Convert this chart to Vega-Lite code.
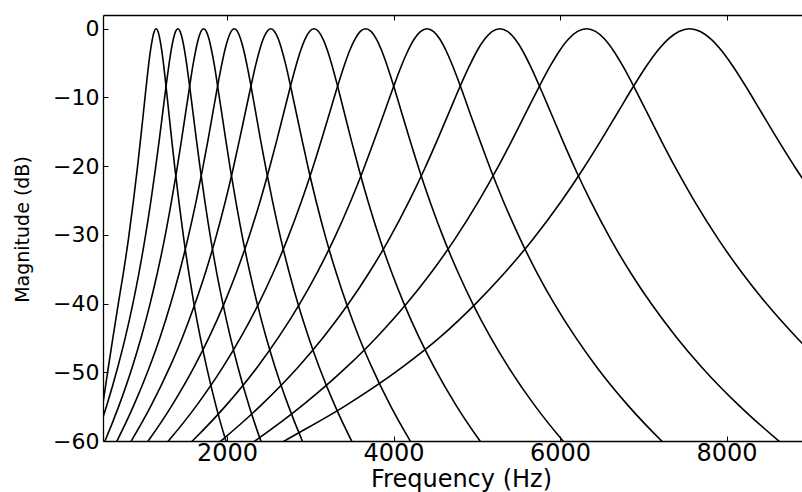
{
  "$schema": "https://vega.github.io/schema/vega-lite/v6.json",
  "width": 699,
  "height": 426,
  "autosize": "none",
  "padding": {"left": 103, "top": 15, "right": 0, "bottom": 51},
  "background": "white",
  "config": {"view": {"stroke": null}},
  "data": {"values": [
    {"c":1,"f":420,"d":-62.73},{"c":1,"f":445,"d":-59.79},{"c":1,"f":505,"d":-54.89},{"c":1,"f":575,"d":-49.22},{"c":1,"f":630,"d":-44.89},{"c":1,"f":694,"d":-40},{"c":1,"f":754,"d":-35.59},{"c":1,"f":815,"d":-30.66},{"c":1,"f":875,"d":-25.1},{"c":1,"f":921,"d":-20.48},{"c":1,"f":959,"d":-16.35},{"c":1,"f":997,"d":-12.04},{"c":1,"f":1027,"d":-8.59},{"c":1,"f":1057,"d":-5.34},{"c":1,"f":1080,"d":-3.2},{"c":1,"f":1103,"d":-1.5},{"c":1,"f":1125,"d":-0.39},{"c":1,"f":1148,"d":0},{"c":1,"f":1171,"d":-0.39},{"c":1,"f":1193,"d":-1.5},{"c":1,"f":1216,"d":-3.2},{"c":1,"f":1239,"d":-5.34},{"c":1,"f":1269,"d":-8.59},{"c":1,"f":1299,"d":-12.04},{"c":1,"f":1337,"d":-16.35},{"c":1,"f":1375,"d":-20.48},{"c":1,"f":1421,"d":-25.1},{"c":1,"f":1481,"d":-30.66},{"c":1,"f":1542,"d":-35.59},{"c":1,"f":1602,"d":-40},{"c":1,"f":1678,"d":-44.89},{"c":1,"f":1754,"d":-49.22},{"c":1,"f":1867,"d":-54.89},{"c":1,"f":1981,"d":-59.79},{"c":1,"f":2057,"d":-62.73},
    {"c":2,"f":328,"d":-62.73},{"c":2,"f":418,"d":-59.79},{"c":2,"f":553,"d":-54.89},{"c":2,"f":688,"d":-49.22},{"c":2,"f":779,"d":-44.89},{"c":2,"f":869,"d":-40},{"c":2,"f":941,"d":-35.59},{"c":2,"f":1013,"d":-30.66},{"c":2,"f":1085,"d":-25.1},{"c":2,"f":1139,"d":-20.48},{"c":2,"f":1184,"d":-16.35},{"c":2,"f":1229,"d":-12.04},{"c":2,"f":1265,"d":-8.59},{"c":2,"f":1301,"d":-5.34},{"c":2,"f":1328,"d":-3.2},{"c":2,"f":1355,"d":-1.5},{"c":2,"f":1382,"d":-0.39},{"c":2,"f":1409,"d":0},{"c":2,"f":1436,"d":-0.39},{"c":2,"f":1463,"d":-1.5},{"c":2,"f":1490,"d":-3.2},{"c":2,"f":1517,"d":-5.34},{"c":2,"f":1553,"d":-8.59},{"c":2,"f":1589,"d":-12.04},{"c":2,"f":1634,"d":-16.35},{"c":2,"f":1679,"d":-20.48},{"c":2,"f":1733,"d":-25.1},{"c":2,"f":1805,"d":-30.66},{"c":2,"f":1877,"d":-35.59},{"c":2,"f":1950,"d":-40},{"c":2,"f":2040,"d":-44.89},{"c":2,"f":2130,"d":-49.22},{"c":2,"f":2265,"d":-54.89},{"c":2,"f":2400,"d":-59.79},{"c":2,"f":2490,"d":-62.73},
    {"c":3,"f":434,"d":-62.73},{"c":3,"f":541,"d":-59.79},{"c":3,"f":701,"d":-54.89},{"c":3,"f":862,"d":-49.22},{"c":3,"f":969,"d":-44.89},{"c":3,"f":1076,"d":-40},{"c":3,"f":1162,"d":-35.59},{"c":3,"f":1248,"d":-30.66},{"c":3,"f":1333,"d":-25.1},{"c":3,"f":1398,"d":-20.48},{"c":3,"f":1451,"d":-16.35},{"c":3,"f":1505,"d":-12.04},{"c":3,"f":1548,"d":-8.59},{"c":3,"f":1590,"d":-5.34},{"c":3,"f":1623,"d":-3.2},{"c":3,"f":1655,"d":-1.5},{"c":3,"f":1687,"d":-0.39},{"c":3,"f":1719,"d":0},{"c":3,"f":1751,"d":-0.39},{"c":3,"f":1783,"d":-1.5},{"c":3,"f":1815,"d":-3.2},{"c":3,"f":1848,"d":-5.34},{"c":3,"f":1890,"d":-8.59},{"c":3,"f":1933,"d":-12.04},{"c":3,"f":1987,"d":-16.35},{"c":3,"f":2040,"d":-20.48},{"c":3,"f":2105,"d":-25.1},{"c":3,"f":2190,"d":-30.66},{"c":3,"f":2276,"d":-35.59},{"c":3,"f":2362,"d":-40},{"c":3,"f":2469,"d":-44.89},{"c":3,"f":2576,"d":-49.22},{"c":3,"f":2737,"d":-54.89},{"c":3,"f":2897,"d":-59.79},{"c":3,"f":3004,"d":-62.73},
    {"c":4,"f":559,"d":-62.73},{"c":4,"f":686,"d":-59.79},{"c":4,"f":877,"d":-54.89},{"c":4,"f":1068,"d":-49.22},{"c":4,"f":1196,"d":-44.89},{"c":4,"f":1323,"d":-40},{"c":4,"f":1425,"d":-35.59},{"c":4,"f":1527,"d":-30.66},{"c":4,"f":1629,"d":-25.1},{"c":4,"f":1705,"d":-20.48},{"c":4,"f":1769,"d":-16.35},{"c":4,"f":1832,"d":-12.04},{"c":4,"f":1883,"d":-8.59},{"c":4,"f":1934,"d":-5.34},{"c":4,"f":1972,"d":-3.2},{"c":4,"f":2011,"d":-1.5},{"c":4,"f":2049,"d":-0.39},{"c":4,"f":2087,"d":0},{"c":4,"f":2125,"d":-0.39},{"c":4,"f":2163,"d":-1.5},{"c":4,"f":2202,"d":-3.2},{"c":4,"f":2240,"d":-5.34},{"c":4,"f":2291,"d":-8.59},{"c":4,"f":2342,"d":-12.04},{"c":4,"f":2405,"d":-16.35},{"c":4,"f":2469,"d":-20.48},{"c":4,"f":2546,"d":-25.1},{"c":4,"f":2647,"d":-30.66},{"c":4,"f":2749,"d":-35.59},{"c":4,"f":2851,"d":-40},{"c":4,"f":2979,"d":-44.89},{"c":4,"f":3106,"d":-49.22},{"c":4,"f":3297,"d":-54.89},{"c":4,"f":3488,"d":-59.79},{"c":4,"f":3615,"d":-62.73},
    {"c":5,"f":708,"d":-62.73},{"c":5,"f":859,"d":-59.79},{"c":5,"f":1086,"d":-54.89},{"c":5,"f":1313,"d":-49.22},{"c":5,"f":1465,"d":-44.89},{"c":5,"f":1616,"d":-40},{"c":5,"f":1738,"d":-35.59},{"c":5,"f":1859,"d":-30.66},{"c":5,"f":1980,"d":-25.1},{"c":5,"f":2071,"d":-20.48},{"c":5,"f":2146,"d":-16.35},{"c":5,"f":2222,"d":-12.04},{"c":5,"f":2283,"d":-8.59},{"c":5,"f":2343,"d":-5.34},{"c":5,"f":2389,"d":-3.2},{"c":5,"f":2434,"d":-1.5},{"c":5,"f":2480,"d":-0.39},{"c":5,"f":2525,"d":0},{"c":5,"f":2570,"d":-0.39},{"c":5,"f":2616,"d":-1.5},{"c":5,"f":2661,"d":-3.2},{"c":5,"f":2707,"d":-5.34},{"c":5,"f":2767,"d":-8.59},{"c":5,"f":2828,"d":-12.04},{"c":5,"f":2904,"d":-16.35},{"c":5,"f":2979,"d":-20.48},{"c":5,"f":3070,"d":-25.1},{"c":5,"f":3191,"d":-30.66},{"c":5,"f":3313,"d":-35.59},{"c":5,"f":3434,"d":-40},{"c":5,"f":3585,"d":-44.89},{"c":5,"f":3737,"d":-49.22},{"c":5,"f":3964,"d":-54.89},{"c":5,"f":4191,"d":-59.79},{"c":5,"f":4342,"d":-62.73},
    {"c":6,"f":885,"d":-62.73},{"c":6,"f":1065,"d":-59.79},{"c":6,"f":1335,"d":-54.89},{"c":6,"f":1605,"d":-49.22},{"c":6,"f":1785,"d":-44.89},{"c":6,"f":1965,"d":-40},{"c":6,"f":2109,"d":-35.59},{"c":6,"f":2253,"d":-30.66},{"c":6,"f":2397,"d":-25.1},{"c":6,"f":2505,"d":-20.48},{"c":6,"f":2595,"d":-16.35},{"c":6,"f":2685,"d":-12.04},{"c":6,"f":2757,"d":-8.59},{"c":6,"f":2829,"d":-5.34},{"c":6,"f":2883,"d":-3.2},{"c":6,"f":2937,"d":-1.5},{"c":6,"f":2991,"d":-0.39},{"c":6,"f":3045,"d":0},{"c":6,"f":3099,"d":-0.39},{"c":6,"f":3153,"d":-1.5},{"c":6,"f":3207,"d":-3.2},{"c":6,"f":3261,"d":-5.34},{"c":6,"f":3333,"d":-8.59},{"c":6,"f":3405,"d":-12.04},{"c":6,"f":3495,"d":-16.35},{"c":6,"f":3585,"d":-20.48},{"c":6,"f":3693,"d":-25.1},{"c":6,"f":3837,"d":-30.66},{"c":6,"f":3981,"d":-35.59},{"c":6,"f":4125,"d":-40},{"c":6,"f":4305,"d":-44.89},{"c":6,"f":4485,"d":-49.22},{"c":6,"f":4755,"d":-54.89},{"c":6,"f":5026,"d":-59.79},{"c":6,"f":5206,"d":-62.73},
    {"c":7,"f":1095,"d":-62.73},{"c":7,"f":1310,"d":-59.79},{"c":7,"f":1631,"d":-54.89},{"c":7,"f":1952,"d":-49.22},{"c":7,"f":2166,"d":-44.89},{"c":7,"f":2380,"d":-40},{"c":7,"f":2552,"d":-35.59},{"c":7,"f":2723,"d":-30.66},{"c":7,"f":2894,"d":-25.1},{"c":7,"f":3023,"d":-20.48},{"c":7,"f":3130,"d":-16.35},{"c":7,"f":3237,"d":-12.04},{"c":7,"f":3322,"d":-8.59},{"c":7,"f":3408,"d":-5.34},{"c":7,"f":3472,"d":-3.2},{"c":7,"f":3537,"d":-1.5},{"c":7,"f":3601,"d":-0.39},{"c":7,"f":3665,"d":0},{"c":7,"f":3729,"d":-0.39},{"c":7,"f":3794,"d":-1.5},{"c":7,"f":3858,"d":-3.2},{"c":7,"f":3922,"d":-5.34},{"c":7,"f":4008,"d":-8.59},{"c":7,"f":4093,"d":-12.04},{"c":7,"f":4200,"d":-16.35},{"c":7,"f":4307,"d":-20.48},{"c":7,"f":4436,"d":-25.1},{"c":7,"f":4607,"d":-30.66},{"c":7,"f":4779,"d":-35.59},{"c":7,"f":4950,"d":-40},{"c":7,"f":5164,"d":-44.89},{"c":7,"f":5378,"d":-49.22},{"c":7,"f":5699,"d":-54.89},{"c":7,"f":6021,"d":-59.79},{"c":7,"f":6235,"d":-62.73},
    {"c":8,"f":1346,"d":-62.73},{"c":8,"f":1601,"d":-59.79},{"c":8,"f":1983,"d":-54.89},{"c":8,"f":2365,"d":-49.22},{"c":8,"f":2619,"d":-44.89},{"c":8,"f":2874,"d":-40},{"c":8,"f":3078,"d":-35.59},{"c":8,"f":3282,"d":-30.66},{"c":8,"f":3485,"d":-25.1},{"c":8,"f":3638,"d":-20.48},{"c":8,"f":3765,"d":-16.35},{"c":8,"f":3893,"d":-12.04},{"c":8,"f":3995,"d":-8.59},{"c":8,"f":4096,"d":-5.34},{"c":8,"f":4173,"d":-3.2},{"c":8,"f":4249,"d":-1.5},{"c":8,"f":4326,"d":-0.39},{"c":8,"f":4402,"d":0},{"c":8,"f":4478,"d":-0.39},{"c":8,"f":4555,"d":-1.5},{"c":8,"f":4631,"d":-3.2},{"c":8,"f":4708,"d":-5.34},{"c":8,"f":4810,"d":-8.59},{"c":8,"f":4911,"d":-12.04},{"c":8,"f":5039,"d":-16.35},{"c":8,"f":5166,"d":-20.48},{"c":8,"f":5319,"d":-25.1},{"c":8,"f":5523,"d":-30.66},{"c":8,"f":5726,"d":-35.59},{"c":8,"f":5930,"d":-40},{"c":8,"f":6185,"d":-44.89},{"c":8,"f":6439,"d":-49.22},{"c":8,"f":6821,"d":-54.89},{"c":8,"f":7203,"d":-59.79},{"c":8,"f":7458,"d":-62.73},
    {"c":9,"f":1643,"d":-62.73},{"c":9,"f":1946,"d":-59.79},{"c":9,"f":2400,"d":-54.89},{"c":9,"f":2855,"d":-49.22},{"c":9,"f":3157,"d":-44.89},{"c":9,"f":3460,"d":-40},{"c":9,"f":3702,"d":-35.59},{"c":9,"f":3945,"d":-30.66},{"c":9,"f":4187,"d":-25.1},{"c":9,"f":4369,"d":-20.48},{"c":9,"f":4520,"d":-16.35},{"c":9,"f":4671,"d":-12.04},{"c":9,"f":4792,"d":-8.59},{"c":9,"f":4914,"d":-5.34},{"c":9,"f":5004,"d":-3.2},{"c":9,"f":5095,"d":-1.5},{"c":9,"f":5186,"d":-0.39},{"c":9,"f":5277,"d":0},{"c":9,"f":5368,"d":-0.39},{"c":9,"f":5459,"d":-1.5},{"c":9,"f":5550,"d":-3.2},{"c":9,"f":5640,"d":-5.34},{"c":9,"f":5761,"d":-8.59},{"c":9,"f":5883,"d":-12.04},{"c":9,"f":6034,"d":-16.35},{"c":9,"f":6185,"d":-20.48},{"c":9,"f":6367,"d":-25.1},{"c":9,"f":6609,"d":-30.66},{"c":9,"f":6851,"d":-35.59},{"c":9,"f":7094,"d":-40},{"c":9,"f":7397,"d":-44.89},{"c":9,"f":7699,"d":-49.22},{"c":9,"f":8154,"d":-54.89},{"c":9,"f":8608,"d":-59.79},{"c":9,"f":8911,"d":-62.73},
    {"c":10,"f":1997,"d":-62.73},{"c":10,"f":2358,"d":-59.79},{"c":10,"f":2898,"d":-54.89},{"c":10,"f":3438,"d":-49.22},{"c":10,"f":3798,"d":-44.89},{"c":10,"f":4158,"d":-40},{"c":10,"f":4446,"d":-35.59},{"c":10,"f":4734,"d":-30.66},{"c":10,"f":5022,"d":-25.1},{"c":10,"f":5238,"d":-20.48},{"c":10,"f":5418,"d":-16.35},{"c":10,"f":5598,"d":-12.04},{"c":10,"f":5742,"d":-8.59},{"c":10,"f":5886,"d":-5.34},{"c":10,"f":5994,"d":-3.2},{"c":10,"f":6102,"d":-1.5},{"c":10,"f":6210,"d":-0.39},{"c":10,"f":6318,"d":0},{"c":10,"f":6426,"d":-0.39},{"c":10,"f":6534,"d":-1.5},{"c":10,"f":6642,"d":-3.2},{"c":10,"f":6750,"d":-5.34},{"c":10,"f":6894,"d":-8.59},{"c":10,"f":7038,"d":-12.04},{"c":10,"f":7218,"d":-16.35},{"c":10,"f":7398,"d":-20.48},{"c":10,"f":7614,"d":-25.1},{"c":10,"f":7902,"d":-30.66},{"c":10,"f":8190,"d":-35.59},{"c":10,"f":8478,"d":-40},{"c":10,"f":8838,"d":-44.89},{"c":10,"f":9198,"d":-49.22},
    {"c":11,"f":2300,"d":-62.73},{"c":11,"f":2720,"d":-59.79},{"c":11,"f":3420,"d":-54.89},{"c":11,"f":4110,"d":-49.22},{"c":11,"f":4559,"d":-44.89},{"c":11,"f":4987,"d":-40},{"c":11,"f":5330,"d":-35.59},{"c":11,"f":5672,"d":-30.66},{"c":11,"f":6015,"d":-25.1},{"c":11,"f":6272,"d":-20.48},{"c":11,"f":6486,"d":-16.35},{"c":11,"f":6700,"d":-12.04},{"c":11,"f":6871,"d":-8.59},{"c":11,"f":7042,"d":-5.34},{"c":11,"f":7171,"d":-3.2},{"c":11,"f":7299,"d":-1.5},{"c":11,"f":7428,"d":-0.39},{"c":11,"f":7556,"d":0},{"c":11,"f":7684,"d":-0.39},{"c":11,"f":7813,"d":-1.5},{"c":11,"f":7941,"d":-3.2},{"c":11,"f":8070,"d":-5.34},{"c":11,"f":8241,"d":-8.59},{"c":11,"f":8412,"d":-12.04},{"c":11,"f":8626,"d":-16.35},{"c":11,"f":8840,"d":-20.48},{"c":11,"f":9097,"d":-25.1}
  ]},
  "encoding": {
    "x": {"field": "f", "type": "quantitative", "scale": {"domain": [510, 8906], "nice": false, "zero": false}},
    "y": {"field": "d", "type": "quantitative", "scale": {"domain": [-60, 2], "nice": false, "zero": false}}
  },
  "layer": [
    {
      "mark": {"type": "line", "color": "black", "strokeWidth": 1.6, "interpolate": "monotone", "clip": true},
      "encoding": {
        "detail": {"field": "c", "type": "nominal"},
        "x": {"field": "f", "type": "quantitative", "axis": {
          "orient": "bottom", "values": [2000, 4000, 6000, 8000], "format": "d", "grid": false,
          "domainColor": "black", "domainWidth": 1.3, "tickColor": "black", "tickWidth": 1, "tickSize": -5,
          "labelFont": "DejaVu Sans", "labelFontSize": 24, "labelColor": "black", "labelPadding": 5, "labelBaseline": "top",
          "title": "Frequency (Hz)", "titleFont": "DejaVu Sans", "titleFontSize": 24, "titleFontWeight": "normal", "titleColor": "black",
          "titleX": 358, "titleY": 45, "titleBaseline": "alphabetic", "titleAlign": "center"
        }},
        "y": {"field": "d", "type": "quantitative", "axis": {
          "orient": "left", "values": [0, -10, -20, -30, -40, -50, -60], "grid": false,
          "domainColor": "black", "domainWidth": 1.3, "tickColor": "black", "tickWidth": 1, "tickSize": -5,
          "labelFont": "DejaVu Sans", "labelFontSize": 22, "labelColor": "black", "labelPadding": 9,
          "title": "Magnitude (dB)", "titleFont": "DejaVu Sans", "titleFontSize": 19, "titleFontWeight": "normal", "titleColor": "black",
          "titleX": -81, "titleY": 214, "titleAngle": -90, "titleAlign": "center", "titleBaseline": "middle"
        }}
      }
    },
    {
      "mark": {"type": "point", "opacity": 0},
      "encoding": {
        "x": {"field": "f", "type": "quantitative", "axis": {
          "orient": "top", "values": [2000, 4000, 6000, 8000], "labels": false, "grid": false, "title": null,
          "domainColor": "black", "domainWidth": 1.3, "tickColor": "black", "tickWidth": 1, "tickSize": -5
        }},
        "y": {"field": "d", "type": "quantitative", "axis": null}
      }
    }
  ],
  "resolve": {"axis": {"x": "independent", "y": "independent"}}
}
